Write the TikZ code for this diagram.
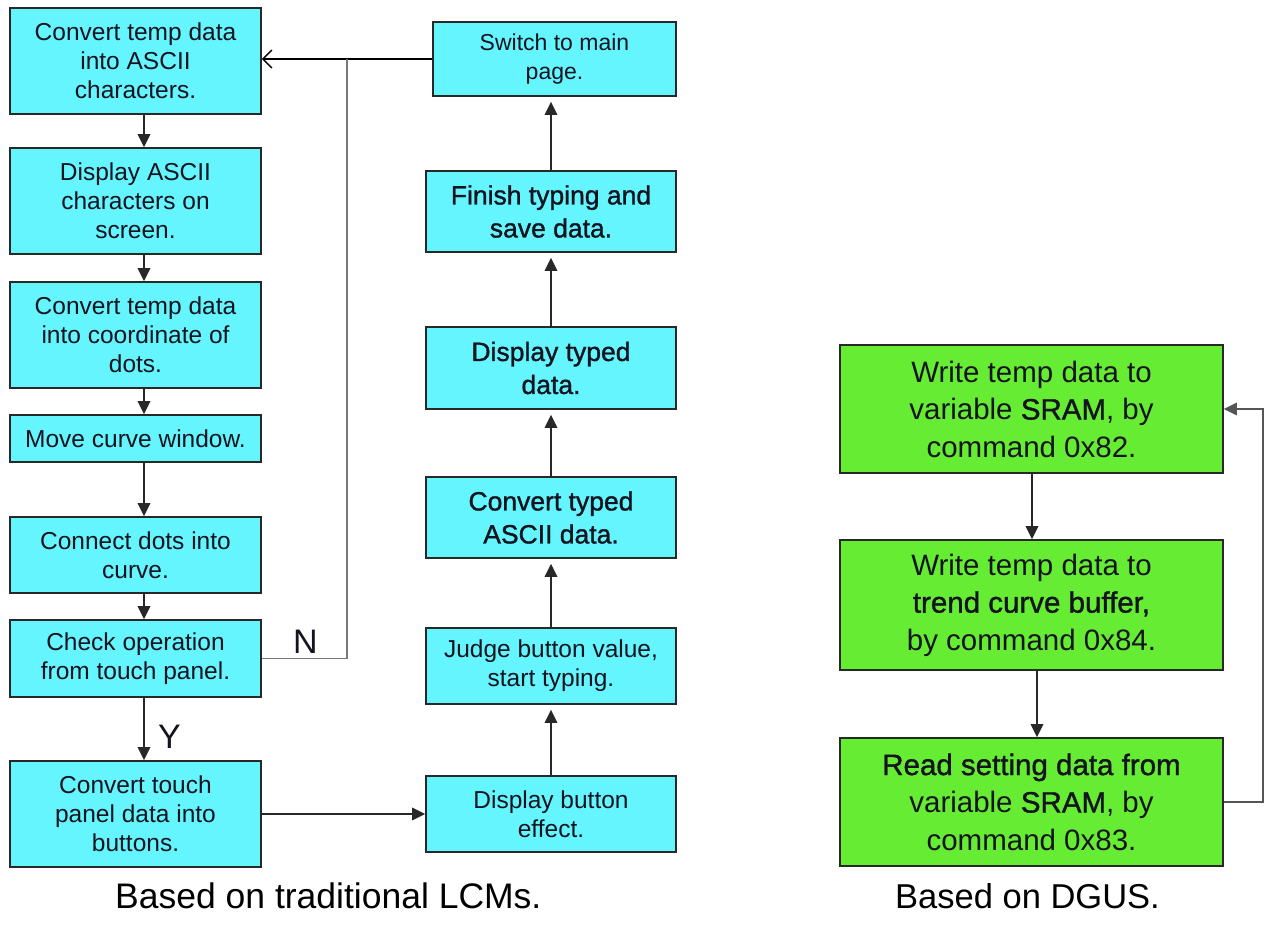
\documentclass[tikz,border=0pt]{standalone}
\usepackage{fontspec}
\setmainfont{Liberation Sans}
\newfontfamily\fbf[FakeBold=1.2]{Liberation Sans}
\usetikzlibrary{arrows.meta}
\definecolor{cyanbox}{RGB}{100,245,255}
\definecolor{greenbox}{RGB}{102,236,51}
\definecolor{edge}{RGB}{40,40,40}
\definecolor{txt}{RGB}{20,20,30}
\definecolor{fbline}{RGB}{120,120,120}
\definecolor{fbdark}{RGB}{85,85,85}
\begin{document}
\begin{tikzpicture}[x=1pt,y=-1pt,
  box/.style={draw=edge, line width=1.6pt, align=center, text=txt, inner sep=0pt},
  cbox/.style={box, fill=cyanbox, font=\fontsize{24.5}{29}\selectfont},
  lbox/.style={cbox, minimum width=251pt},
  mbox/.style={cbox, minimum width=250pt},
  bigtxt/.style={font=\fontsize{26.5}{33}\fbf},
  gbox/.style={box, fill=greenbox, minimum width=383pt, font=\fontsize{29.5}{37.5}\selectfont},
  arr/.style={draw=edge, line width=1.5pt, -{Triangle[width=12.5pt,length=13pt]}},
  uparr/.style={arr, shorten >=5pt},
  lbl/.style={text=txt, inner sep=0pt, anchor=base west, font=\fontsize{34}{40}\selectfont},
  captxt/.style={text=black, inner sep=0pt, anchor=base west, font=\fontsize{35.5}{42}\selectfont}
]
\fill[white] (0,0) rectangle (1269,926);
\useasboundingbox (0,0) rectangle (1269,926);

% left column
\node[lbox, minimum height=106pt] (L1) at (135.5,61) {Convert temp data\\into ASCII\\characters.};
\node[lbox, minimum height=106pt] (L2) at (135.5,201) {Display ASCII\\characters on\\screen.};
\node[lbox, minimum height=106pt] (L3) at (135.5,335) {Convert temp data\\into coordinate of\\dots.};
\node[lbox, minimum height=47pt] (L4) at (135.5,438.5) {Move curve window.};
\node[lbox, minimum height=76pt] (L5) at (135.5,555) {Connect dots into\\curve.};
\node[lbox, minimum height=77pt] (L6) at (135.5,658.5) {Check operation\\from touch panel.};
\node[lbox, minimum height=106pt] (L7) at (135.5,814) {Convert touch\\panel data into\\buttons.};

% middle column
\node[cbox, minimum width=243pt, minimum height=74pt, font=\fontsize{23}{29}\selectfont] (M1) at (554.5,59) {Switch to main\\page.};
\node[mbox, minimum height=81pt, bigtxt] (M2) at (551,211.5) {Finish typing and\\save data.};
\node[mbox, minimum height=82pt, bigtxt] (M3) at (551,368) {Display typed\\data.};
\node[mbox, minimum height=81pt, bigtxt] (M4) at (551,517.5) {Convert typed\\ASCII data.};
\node[mbox, minimum height=76pt] (M5) at (551,666) {Judge button value,\\start typing.};
\node[mbox, minimum height=76pt] (M6) at (551,814) {Display button\\effect.};

% right column
\node[gbox, minimum height=128pt] (G1) at (1031.5,409) {Write temp data to\\variable {\fbf SRAM}, by\\command 0x82.};
\node[gbox, minimum height=130pt] (G2) at (1031.5,605) {Write temp data to\\{\fbf trend curve buffer,}\\by command 0x84.};
\node[gbox, minimum height=128pt] (G3) at (1031.5,802) {{\fbf Read setting data from}\\variable {\fbf SRAM}, by\\command 0x83.};

% helper coordinates
\coordinate (ax) at (144,0);
\coordinate (mx) at (551,0);
\coordinate (jn) at (347,0);
\coordinate (g1x) at (1032,0);
\coordinate (g2x) at (1037,0);
\coordinate (gx) at (1263,0);

% left arrows
\draw[arr] (L1.south -| ax) -- (L2.north -| ax);
\draw[arr] (L2.south -| ax) -- (L3.north -| ax);
\draw[arr] (L3.south -| ax) -- (L4.north -| ax);
\draw[arr] (L4.south -| ax) -- (L5.north -| ax);
\draw[arr] (L5.south -| ax) -- (L6.north -| ax);
\draw[arr] (L6.south -| ax) -- (L7.north -| ax);
\draw[arr] (L7.east) -- (M6.west);

% middle arrows (upward)
\draw[uparr] (M6.north -| mx) -- (M5.south -| mx);
\draw[uparr] (M5.north -| mx) -- (M4.south -| mx);
\draw[uparr] (M4.north -| mx) -- (M3.south -| mx);
\draw[uparr] (M3.north -| mx) -- (M2.south -| mx);
\draw[uparr] (M2.north -| mx) -- (M1.south -| mx);

% feedback to top-left
\draw[black, line width=2.8pt, -{Straight Barb[length=9pt,width=18pt,line width=1.4pt]}] (M1.west) -- (M1.west -| L1.east);
\draw[fbline, line width=1.8pt] (L6.east) -| (jn |- M1.west);

% labels
\node[lbl] (N) at (293,653) {N};
\node[lbl] (Y) at (158,748) {Y};

% right arrows
\draw[arr] (G1.south -| g1x) -- (G2.north -| g1x);
\draw[arr] (G2.south -| g2x) -- (G3.north -| g2x);
\draw[arr, draw=fbdark] (G3.east) -- (G3.east -| gx) |- (G1.east);

% captions
\node[captxt] (C1) at (115,908) {Based on traditional LCMs.};
\node[captxt, font=\fontsize{34.5}{42}\selectfont] (C2) at (895,908) {Based on DGUS.};
\end{tikzpicture}
\end{document}
